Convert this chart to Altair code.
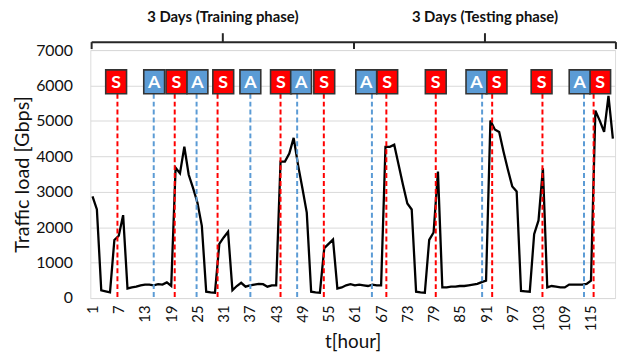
import altair as alt
import pandas as pd

hours = list(range(1, 121))
traffic = [
    2870, 2500, 220, 190, 160, 1640, 1760, 2340, 270, 300,
    320, 360, 380, 380, 360, 390, 380, 440, 340, 3680,
    3520, 4270, 3480, 3100, 2690, 2040, 180, 160, 150, 1530,
    1710, 1870, 220, 340, 430, 320, 360, 380, 400, 390,
    320, 360, 360, 3850, 3850, 4080, 4520, 3760, 3100, 2410,
    180, 160, 150, 1410, 1530, 1650, 270, 300, 360, 390,
    360, 380, 360, 340, 380, 360, 360, 4270, 4270, 4330,
    3760, 3200, 2670, 2500, 180, 160, 150, 1640, 1850, 3570,
    300, 300, 320, 320, 340, 340, 360, 380, 400, 450,
    490, 5010, 4760, 4690, 4130, 3620, 3150, 3010, 200, 190,
    180, 1800, 2190, 3660, 300, 340, 320, 300, 300, 380,
    380, 380, 380, 400, 490, 5290, 5010, 4690, 5710, 4500,
]
s_lines = [6.7, 19.8, 29.6, 44.0, 53.9, 68.2, 79.5, 92.4, 103.9, 115.6]
a_lines = [15.0, 24.8, 37.1, 47.8, 64.9, 90.1, 113.4]
s_boxes = [6.4, 20.2, 30.9, 44.1, 54.0, 68.4, 79.5, 93.4, 103.7, 117.1]
a_boxes = [15.1, 25.0, 37.1, 48.7, 63.6, 88.8, 112.4]
phase_labels = ["3 Days (Training phase)", "3 Days (Testing phase)"]
phase_start = [0.8, 60.8]
phase_end = [60.8, 120.7]
tick_values = list(range(1, 116, 6))
y_ticks = list(range(0, 7001, 1000))

df = pd.DataFrame({"hour": hours, "traffic": traffic})
ev = pd.DataFrame({"hour": s_lines + a_lines,
                   "type": ["S"] * len(s_lines) + ["A"] * len(a_lines)})
bx = pd.DataFrame({"hour": s_boxes + a_boxes,
                   "type": ["S"] * len(s_boxes) + ["A"] * len(a_boxes)})
ph = pd.DataFrame({"label": phase_labels, "hour": phase_start, "end": phase_end})
ph["mid"] = (ph["hour"] + ph["end"]) / 2
ends = pd.DataFrame({"hour": phase_start + phase_end})

FONT = "Lato"
xscale = alt.Scale(domain=[0.5, 120.5], nice=False, zero=False)
yscale = alt.Scale(domain=[0, 7000], nice=False)
xaxis = alt.Axis(values=tick_values, labelAngle=270, title="t[hour]", grid=False,
                 ticks=False, domainColor="#D9D9D9", domainWidth=1,
                 labelFontSize=15, labelColor="#111", labelPadding=7,
                 titleFontSize=19, titleFontWeight="normal", titleColor="#111",
                 titlePadding=2, labelFont=FONT, titleFont=FONT)
X = alt.X("hour:Q", scale=xscale, axis=xaxis)
cscale = alt.Scale(domain=["S", "A"], range=["#FF0000", "#5B9BD5"])

line = alt.Chart(df).mark_line(color="black", strokeWidth=2.3).encode(
    x=X,
    y=alt.Y("traffic:Q", scale=yscale,
            axis=alt.Axis(values=y_ticks, format="d", title="Traffic load [Gbps]", grid=True,
                          gridColor="#D9D9D9", domain=False, ticks=False,
                          labelFontSize=16, labelColor="#111", labelPadding=18,
                          titleFontSize=20, titleFontWeight="normal", titleColor="#111",
                          titlePadding=3, labelFont=FONT, titleFont=FONT)),
)

rules = alt.Chart(ev).mark_rule(strokeDash=[5, 3], strokeWidth=2).encode(
    x=X, y=alt.value(44), y2=alt.value(250),
    color=alt.Color("type:N", scale=cscale, legend=None),
)

box_shape = "M-0.875,-1L0.875,-1L0.875,1L-0.875,1Z"
boxes = alt.Chart(bx).mark_point(shape=box_shape, filled=True, size=576, opacity=1,
                                 stroke="#333333", strokeWidth=1.6).encode(
    x=X, y=alt.value(32),
    fill=alt.Fill("type:N", scale=cscale, legend=None),
)
box_text = alt.Chart(bx).mark_text(font=FONT, fontWeight="bold", fontSize=18,
                                   color="white", baseline="middle", dy=1).encode(
    x=X, y=alt.value(32), text="type:N",
)

brace_h = alt.Chart(ph).mark_rule(color="#262626", strokeWidth=2).encode(
    x=X, x2="end:Q", y=alt.value(-8),
)
brace_e = alt.Chart(ends).mark_rule(color="#262626", strokeWidth=2).encode(
    x=X, y=alt.value(-8), y2=alt.value(-1),
)
brace_c = alt.Chart(ph).mark_rule(color="#262626", strokeWidth=2).encode(
    x=alt.X("mid:Q", scale=xscale, axis=xaxis), y=alt.value(-17), y2=alt.value(-8),
)
phase_text = alt.Chart(ph).mark_text(font=FONT, fontWeight="bold", fontSize=15,
                                     color="#111", baseline="middle").encode(
    x=alt.X("mid:Q", scale=xscale, axis=xaxis), y=alt.value(-33), text="label:N",
)

chart = alt.layer(line, rules, boxes, box_text, brace_h, brace_e, brace_c, phase_text).properties(
    width=529, height=250,
    autosize=alt.AutoSizeParams(type="none"),
    padding={"left": 83, "top": 41, "right": 5, "bottom": 55},
).configure_view(stroke=None).configure(font=FONT)

chart.save("out.html", embed_options={"renderer": "svg", "actions": False})
